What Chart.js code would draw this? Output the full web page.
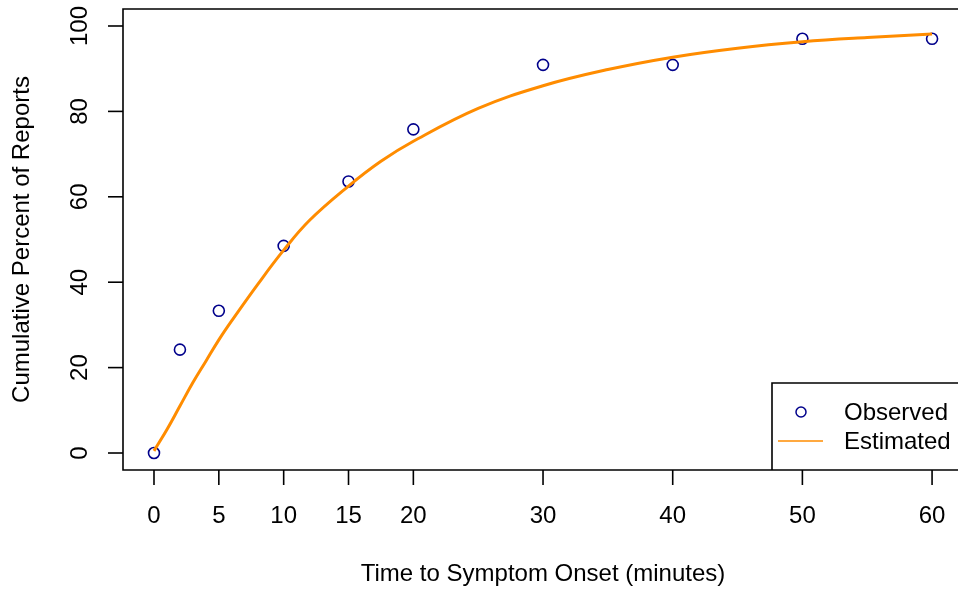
<!DOCTYPE html>
<html>
<head>
<meta charset="utf-8">
<script src="https://cdn.jsdelivr.net/npm/chart.js@4"></script>
<style>
  html, body { margin: 0; padding: 0; background: #fff; }
  canvas { display: block; }
</style>
</head>
<body>
<canvas id="chart" width="958" height="592"></canvas>
<script>
// observed cumulative percent of reports
const obsTime = [0, 2, 5, 10, 15, 20, 30, 40, 50, 60];
const obsPct = [0, 24.2, 33.3, 48.5, 63.6, 75.8, 90.9, 90.9, 97.0, 97.0];

// estimated curve
const estTime = [0, 1, 2, 3, 4, 5, 6, 8, 10, 12, 15, 17.5, 20, 25, 30, 35, 40, 45, 50, 55, 60];
const estPct = [0.5, 5.5, 11, 16.5, 21.5, 26.5, 31, 39.5, 47.5, 54.5, 62.5, 68.3, 73, 80.7, 86, 89.8, 92.7, 94.8, 96.3, 97.3, 98.1];

const xTicks = [0, 5, 10, 15, 20, 30, 40, 50, 60];
const yTicks = [0, 20, 40, 60, 80, 100];

const FONT = '24px "Liberation Sans", Arial, sans-serif';
const OBS_COLOR = '#00008B';
const EST_COLOR = '#FF8C00';

const rAxes = {
    id: 'rAxes',
    afterDraw(chart) {
        const ctx = chart.ctx;
        const a = chart.chartArea;
        const xs = chart.scales.x, ys = chart.scales.y;
        ctx.save();
        ctx.strokeStyle = '#000';
        ctx.lineWidth = 1.6;
        ctx.fillStyle = '#000';
        ctx.font = FONT;

        // plot box (right edge falls off the canvas)
        ctx.beginPath();
        ctx.moveTo(a.right + 5, a.top);
        ctx.lineTo(a.left, a.top);
        ctx.lineTo(a.left, a.bottom);
        ctx.lineTo(a.right + 5, a.bottom);
        ctx.stroke();

        // x axis
        ctx.textAlign = 'center';
        ctx.textBaseline = 'middle';
        xTicks.forEach(v => {
            const px = xs.getPixelForValue(v);
            ctx.beginPath();
            ctx.moveTo(px, a.bottom);
            ctx.lineTo(px, a.bottom + 15);
            ctx.stroke();
            ctx.fillText(String(v), px, a.bottom + 46);
        });
        ctx.fillText('Time to Symptom Onset (minutes)', (xs.getPixelForValue(0) + xs.getPixelForValue(60)) / 2, 574);

        // y axis
        yTicks.forEach(v => {
            const py = ys.getPixelForValue(v);
            ctx.beginPath();
            ctx.moveTo(a.left - 15, py);
            ctx.lineTo(a.left, py);
            ctx.stroke();
            ctx.save();
            ctx.translate(80, py);
            ctx.rotate(-Math.PI / 2);
            ctx.fillText(String(v), 0, 0);
            ctx.restore();
        });
        ctx.save();
        ctx.translate(22, (ys.getPixelForValue(0) + ys.getPixelForValue(100)) / 2);
        ctx.rotate(-Math.PI / 2);
        ctx.fillText('Cumulative Percent of Reports', 0, 0);
        ctx.restore();

        // legend box, bottom right
        ctx.beginPath();
        ctx.moveTo(772, a.bottom);
        ctx.lineTo(772, 383);
        ctx.lineTo(a.right + 5, 383);
        ctx.stroke();

        ctx.strokeStyle = OBS_COLOR;
        ctx.lineWidth = 1.5;
        ctx.beginPath();
        ctx.arc(801, 412, 5, 0, Math.PI * 2);
        ctx.stroke();

        ctx.strokeStyle = EST_COLOR;
        ctx.lineWidth = 1.5;
        ctx.beginPath();
        ctx.moveTo(778, 441);
        ctx.lineTo(823, 441);
        ctx.stroke();

        ctx.textAlign = 'left';
        ctx.fillStyle = '#000';
        ctx.fillText('Observed', 844, 413);
        ctx.fillText('Estimated', 844, 442);
        ctx.restore();
    }
};

new Chart(document.getElementById('chart'), {
    type: 'scatter',
    data: {
        datasets: [{
            label: 'Estimated',
            data: estTime.map((t, i) => ({ x: t, y: estPct[i] })),
            showLine: true,
            borderColor: EST_COLOR,
            borderWidth: 3,
            pointRadius: 0,
            fill: false,
            tension: 0.4
        }, {
            label: 'Observed',
            data: obsTime.map((t, i) => ({ x: t, y: obsPct[i] })),
            showLine: false,
            pointStyle: 'circle',
            pointRadius: 5.5,
            borderColor: OBS_COLOR,
            backgroundColor: 'rgba(0,0,0,0)',
            borderWidth: 1.6
        }]
    },
    options: {
        responsive: false,
        animation: false,
        layout: { autoPadding: false, padding: { left: 123, top: 9, right: 0, bottom: 122 } },
        plugins: { legend: { display: false }, tooltip: { enabled: false } },
        scales: {
            x: { type: 'linear', min: -2.39, max: 62.0, display: false },
            y: { type: 'linear', min: -3.98, max: 103.98, display: false }
        }
    },
    plugins: [rAxes]
});
</script>
</body>
</html>
